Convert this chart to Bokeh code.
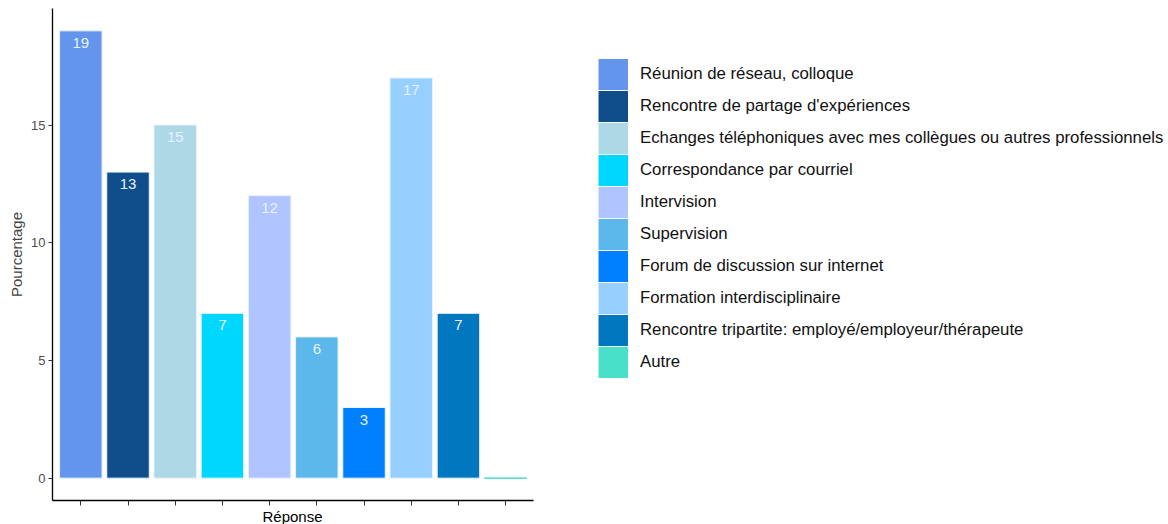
from bokeh.plotting import figure
from bokeh.models import ColumnDataSource, Range1d, FixedTicker, Legend, LegendItem, LabelSet, Title
from bokeh.core.properties import value
from bokeh.embed import file_html
from bokeh.resources import INLINE

categories = [
    "Réunion de réseau, colloque",
    "Rencontre de partage d'expériences",
    "Echanges téléphoniques avec mes collègues ou autres professionnels",
    "Correspondance par courriel",
    "Intervision",
    "Supervision",
    "Forum de discussion sur internet",
    "Formation interdisciplinaire",
    "Rencontre tripartite: employé/employeur/thérapeute",
    "Autre",
]
values = [19, 13, 15, 7, 12, 6, 3, 17, 7, 0]
colors = ["#6495ED", "#104E8B", "#ADD8E6", "#00D7FF", "#B0C4FF",
          "#5CB8EB", "#0080FF", "#97D0FF", "#0077BE", "#48E0C8"]
y_ticks = [0, 5, 10, 15]

FONT = "Liberation Sans"

n = len(categories)
xs = list(range(1, n + 1))
src = ColumnDataSource(dict(x=xs, top=values, color=colors, cat=categories))

W, H = 1168, 524
FL, FB, FT = 52, 22, 8
px_per_unit = 47.2
x_end = 0.4 + (W - FL) / px_per_unit

p = figure(width=W, height=H, output_backend="svg", toolbar_location=None,
           x_range=Range1d(0.4, x_end),
           y_range=Range1d(-0.95, 19.95),
           min_border_left=FL, min_border_right=0, min_border_top=FT, min_border_bottom=FB)
p.outline_line_color = None
p.xgrid.visible = False
p.ygrid.visible = False

r = p.vbar(x="x", top="top", width=0.9, bottom=0, source=src,
           fill_color="color", line_color="#EAF2FF", line_width=1)
# Autre (zero) thin line in its colour
p.vbar(x=[xs[-1]], top=[values[-1]], width=0.9, bottom=0,
       fill_color=colors[-1], line_color=colors[-1], line_width=1)

# legend keys: an empty multi_line whose legend swatches are thick butt-capped strokes
key_src = ColumnDataSource(dict(xs=[[] for _ in categories], ys=[[] for _ in categories],
                                color=colors))
keys = p.multi_line(xs="xs", ys="ys", source=key_src, line_color="color",
                    line_width=31, line_cap="butt")

lab_src = ColumnDataSource(dict(x=[x for x, v in zip(xs, values) if v > 0],
                                y=[v for v in values if v > 0],
                                t=[str(v) for v in values if v > 0]))
labels = LabelSet(x="x", y="y", text="t", source=lab_src, y_offset=-12,
                  text_align="center", text_baseline="middle",
                  text_color="#E6F2FF", text_font_size=value("15px"),
                  text_font=value(FONT))
p.add_layout(labels)

# axes
p.xaxis.bounds = (0.4, n + 0.6)
p.xaxis.ticker = FixedTicker(ticks=xs)
p.xaxis.major_label_overrides = {x: "" for x in xs}
p.xaxis.major_label_text_font_size = "1px"
p.xaxis.major_label_standoff = 0
p.xaxis.major_tick_out = 5
p.xaxis.major_tick_in = 0
p.xaxis.minor_tick_line_color = None
p.xaxis.axis_line_width = 1.3
p.xaxis.major_tick_line_color = "#333333"

xtitle = Title(text="Réponse", align="left", offset=210, standoff=0,
               text_font=FONT, text_font_size="15px", text_font_style="normal",
               text_color="black")
p.add_layout(xtitle, "below")

p.yaxis.ticker = FixedTicker(ticks=y_ticks)
p.yaxis.major_label_text_font = FONT
p.yaxis.major_label_text_font_size = "13px"
p.yaxis.major_label_text_color = "#4D4D4D"
p.yaxis.major_label_standoff = 3
p.yaxis.major_tick_out = 4
p.yaxis.major_tick_in = 0
p.yaxis.minor_tick_line_color = None
p.yaxis.axis_label = "Pourcentage"
p.yaxis.axis_label_text_font = FONT
p.yaxis.axis_label_text_font_size = "15px"
p.yaxis.axis_label_text_font_style = "normal"
p.yaxis.axis_label_standoff = 3
p.yaxis.axis_line_width = 1.3
p.yaxis.major_tick_line_color = "#333333"

items = [LegendItem(label=c, renderers=[keys], index=i) for i, c in enumerate(categories)]
legend = Legend(items=items, location=(546, 122), orientation="vertical",
                glyph_width=30, glyph_height=32, label_height=32, spacing=0,
                padding=0, margin=0, border_line_color=None,
                background_fill_alpha=0,
                label_text_font=FONT, label_text_font_size="16.8px",
                label_text_color="#111111",
                label_standoff=12)
p.add_layout(legend)

open("out.html", "w").write(file_html(p, INLINE))
